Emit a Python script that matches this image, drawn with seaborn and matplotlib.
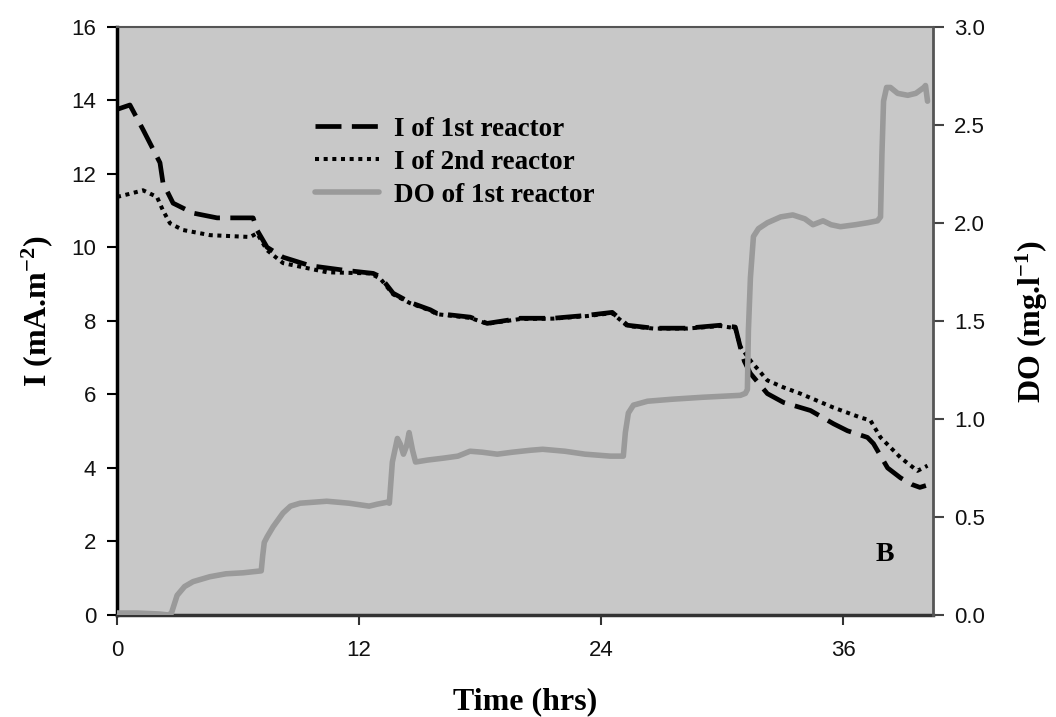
import matplotlib
matplotlib.use("Agg")
import matplotlib.pyplot as plt
import seaborn as sns
import pandas as pd

# ---------------- data ----------------
t_do = [0, 1.0, 2.1, 2.55, 2.7, 2.98, 3.35, 3.77, 4.6, 5.4, 6.25, 7.15, 7.22, 7.3,
        7.45, 7.74, 8.23, 8.6, 9.08, 10.4, 11.5, 12.5, 12.9, 13.4, 13.5, 13.65,
        13.9, 14.05, 14.2, 14.35, 14.48, 14.65, 14.8, 15.4, 16.2, 16.9, 17.5,
        18.1, 18.85, 19.6, 20.5, 21.1, 22.2, 23.2, 24.45, 25.1, 25.2, 25.35,
        25.6, 26.3, 27.5, 29.0, 30.9, 31.15, 31.25, 31.3, 31.4, 31.55, 31.8,
        32.24, 32.9, 33.5, 34.1, 34.5, 34.75, 35.0, 35.4, 35.86, 36.6, 37.2,
        37.7, 37.85, 37.92, 38.0, 38.15, 38.34, 38.7, 39.2, 39.6, 40.0, 40.08,
        40.18]
do_1st = [0.01, 0.01, 0.005, 0.0, 0.01, 0.10, 0.145, 0.17, 0.195, 0.21, 0.215,
          0.225, 0.30, 0.37, 0.40, 0.45, 0.52, 0.555, 0.57, 0.58, 0.57, 0.555,
          0.565, 0.575, 0.57, 0.78, 0.90, 0.87, 0.82, 0.86, 0.93, 0.84, 0.78,
          0.79, 0.80, 0.81, 0.835, 0.83, 0.82, 0.83, 0.84, 0.845, 0.835, 0.82,
          0.81, 0.81, 0.93, 1.03, 1.07, 1.09, 1.10, 1.11, 1.12, 1.13, 1.15,
          1.45, 1.72, 1.93, 1.97, 2.0, 2.03, 2.04, 2.02, 1.99, 2.00, 2.01,
          1.99, 1.98, 1.99, 2.0, 2.01, 2.03, 2.35, 2.62, 2.69, 2.69, 2.66,
          2.65, 2.66, 2.69, 2.70, 2.62]

t_i1 = [0, 0.64, 1.29, 2.13, 2.28, 2.78, 3.77, 4.96, 6.75, 6.94, 7.44, 8.23,
        9.57, 11.21, 12.7, 13.05, 13.69, 14.53, 15.53, 15.87, 17.51, 18.35,
        19.99, 21.63, 23.31, 24.55, 25.3, 26.59, 28.27, 29.91, 30.65, 30.9,
        31.1, 31.4, 32.24, 33.04, 34.38, 35.52, 36.21, 37.2, 37.5, 38.2,
        38.84, 39.4, 39.8, 40.1]
i_1st = [13.75, 13.87, 13.2, 12.3, 11.75, 11.2, 10.93, 10.8, 10.8, 10.47, 10.0,
         9.73, 9.5, 9.38, 9.29, 9.2, 8.75, 8.5, 8.3, 8.2, 8.1, 7.93, 8.07,
         8.07, 8.15, 8.23, 7.88, 7.8, 7.8, 7.88, 7.83, 7.28, 6.9, 6.57, 6.02,
         5.78, 5.56, 5.2, 5.01, 4.83, 4.66, 4.0, 3.73, 3.55, 3.47, 3.52]

t_i2 = [0, 0.6, 1.29, 1.98, 2.28, 2.63, 3.27, 4.61, 6.6, 6.94, 7.44, 8.23,
        10.42, 12.55, 13.05, 13.69, 14.53, 15.53, 15.87, 17.51, 18.35, 19.99,
        21.63, 23.31, 24.55, 25.3, 26.59, 28.27, 29.91, 30.65, 30.9, 31.4,
        32.24, 33.04, 33.88, 35.52, 36.86, 37.35, 37.85, 38.84, 39.68, 40.18]
i_2nd = [11.37, 11.45, 11.55, 11.37, 11.0, 10.65, 10.47, 10.33, 10.28, 10.38,
         9.92, 9.57, 9.32, 9.29, 9.15, 8.72, 8.48, 8.28, 8.18, 8.08, 7.92,
         8.05, 8.06, 8.13, 8.21, 7.86, 7.79, 7.79, 7.86, 7.8, 7.3, 6.92, 6.38,
         6.19, 6.02, 5.64, 5.37, 5.29, 4.83, 4.28, 3.92, 4.06]

x_ticks = [0, 12, 24, 36]
y_ticks_left = [0, 2, 4, 6, 8, 10, 12, 14, 16]
y_ticks_right = [0.0, 0.5, 1.0, 1.5, 2.0, 2.5, 3.0]
labels = ["I of 1st reactor", "I of 2nd reactor", "DO of 1st reactor"]

df_do = pd.DataFrame({"t": t_do, "DO": do_1st})
df_i1 = pd.DataFrame({"t": t_i1, "I": i_1st})
df_i2 = pd.DataFrame({"t": t_i2, "I": i_2nd})

# ---------------- style ----------------
sns.set_style("ticks")
plt.rcParams["font.family"] = ["Liberation Sans", "DejaVu Sans"]
plt.rcParams["mathtext.default"] = "regular"
plt.rcParams["text.color"] = "black"
plt.rcParams["axes.labelcolor"] = "black"

fig = plt.figure(figsize=(10.56, 7.17), dpi=100)
ax1 = fig.add_axes([0.1108, 0.1423, 0.8835 - 0.1108, 0.9628 - 0.1423])
ax1.set_facecolor("#c8c8c8")
ax2 = ax1.twinx()
ax2.patch.set_visible(False)

sns.lineplot(data=df_i1, x="t", y="I", ax=ax1, color="black", linewidth=3.4,
             linestyle=(0, (5.5, 2.2)), estimator=None, legend=False)
sns.lineplot(data=df_i2, x="t", y="I", ax=ax1, color="black", linewidth=2.9,
             linestyle=(0, (1, 1.15)), estimator=None, legend=False)
sns.lineplot(data=df_do, x="t", y="DO", ax=ax2, color="#9a9a9a", linewidth=4,
             estimator=None, legend=False)

ax1.set_xlim(0, 40.45)
ax1.set_ylim(0, 16)
ax2.set_ylim(0, 3)
ax1.set_xticks(x_ticks)
ax1.set_yticks(y_ticks_left)
ax2.set_yticks(y_ticks_right)
ax2.set_yticklabels([f"{v:.1f}" for v in y_ticks_right])

ax1.tick_params(axis="y", direction="out", length=7, width=1.5, color="black",
                pad=8, labelsize=16, labelcolor="#111111")
ax1.tick_params(axis="x", direction="out", length=7, width=1.5, color="#333333",
                pad=11, labelsize=16, labelcolor="#111111")
ax2.tick_params(axis="y", direction="out", length=8, width=1.5, color="#444444",
                pad=7, labelsize=16, labelcolor="#111111")

ax1.spines["left"].set_visible(True)
ax1.spines["bottom"].set_visible(True)
ax1.spines["top"].set_visible(True)
ax1.spines["right"].set_visible(False)
ax1.spines["left"].set_linewidth(2.5)
ax1.spines["left"].set_color("black")
ax1.spines["bottom"].set_linewidth(2.5)
ax1.spines["bottom"].set_color("#333333")
ax1.spines["top"].set_linewidth(1.5)
ax1.spines["top"].set_color("#555555")
for side in ["top", "left", "bottom"]:
    ax2.spines[side].set_visible(False)
ax2.spines["right"].set_visible(True)
ax2.spines["right"].set_linewidth(2)
ax2.spines["right"].set_color("#555555")

label_font = dict(family=["Liberation Serif", "DejaVu Serif"], weight="bold",
                  size=23, color="black")
ax1.set_xlabel("Time (hrs)", va="center", **label_font)
ax1.xaxis.set_label_coords(0.5006, -0.148)
ax1.set_ylabel(r"I (mA.m$^{-2}$)", va="center", **label_font)
ax1.yaxis.set_label_coords(-0.098, 0.516)
ax2.set_ylabel(r"DO (mg.l$^{-1}$)", va="center", rotation=90, **label_font)
ax2.yaxis.set_label_coords(1.121, 0.499)

ax2.text(0.941, 0.102, "B", transform=ax2.transAxes, ha="center", va="center",
         family=["Liberation Serif", "DejaVu Serif"], weight="bold", size=20,
         color="black")

handles = [ax1.lines[0], ax1.lines[1], ax2.lines[0]]
leg = ax2.legend(handles, labels, loc="upper left", bbox_to_anchor=(0.243, 0.847),
                 frameon=False, borderpad=0, borderaxespad=0, handlelength=2.35,
                 handletextpad=0.55, labelspacing=0.3,
                 prop=dict(family=["Liberation Serif", "DejaVu Serif"],
                           weight="bold", size=19.5))
for txt in leg.get_texts():
    txt.set_color("black")

fig.savefig("out.png", dpi=100)
